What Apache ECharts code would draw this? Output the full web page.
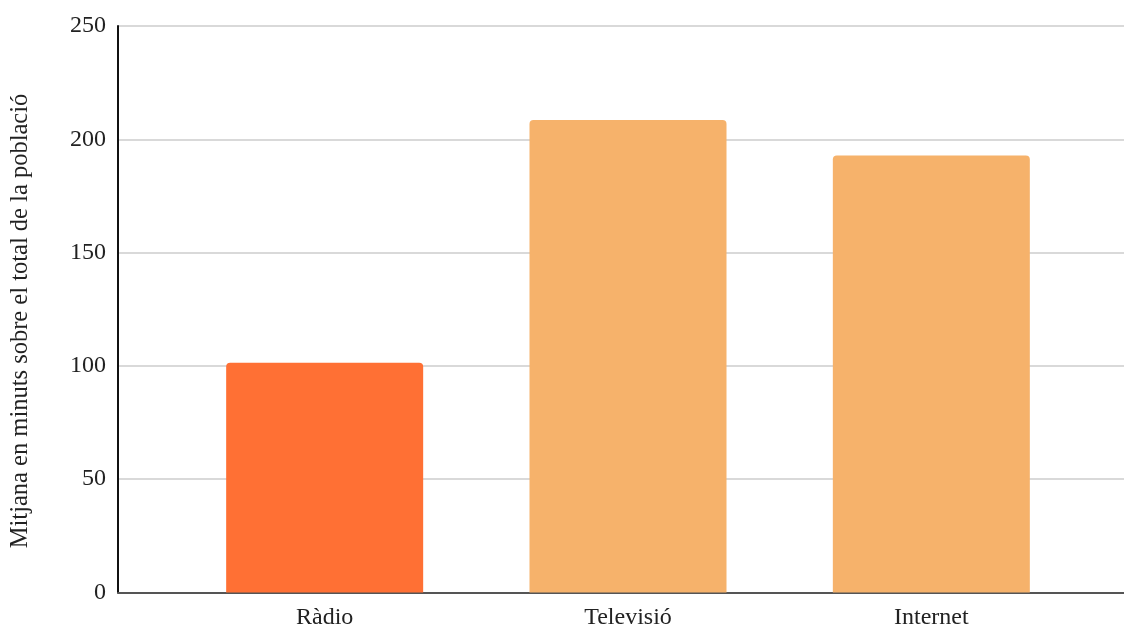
<!DOCTYPE html>
<html>
<head>
<meta charset="utf-8">
<script src="https://cdn.jsdelivr.net/npm/echarts@6/dist/echarts.min.js"></script>
<style>
  html, body { margin: 0; padding: 0; background: #ffffff; }
  #chart { width: 1124px; height: 630px; }
</style>
</head>
<body>
<div id="chart"></div>
<script>
// Mitjana de minuts diaris per mitjà
const categories = ['Ràdio', 'Televisió', 'Internet'];
const minutes = [101.4, 208.5, 192.8];
const barColors = ['#ff7034', '#f6b26b', '#f6b26b'];
const yTitle = 'Mitjana en minuts sobre el total de la població';
const yMin = 0;
const yMax = 250;
const yStep = 50;

const serif = '"Liberation Serif", "DejaVu Serif", serif';

const chart = echarts.init(document.getElementById('chart'), null, { renderer: 'canvas' });

chart.setOption({
  backgroundColor: '#ffffff',
  animation: false,
  grid: [
    // frame: value scale, gridlines and axis lines
    { left: 118, right: 0, top: 26, bottom: 37.5 },
    // bars
    { left: 173, right: 41, top: 26, bottom: 37.5 }
  ],
  xAxis: [
    {
      gridIndex: 0,
      type: 'category',
      data: categories,
      axisLine: { show: true, lineStyle: { color: '#555555', width: 2 } },
      axisTick: { show: false },
      axisLabel: { show: false },
      splitLine: { show: false }
    },
    {
      gridIndex: 1,
      type: 'category',
      data: categories,
      axisLine: { show: false },
      axisTick: { show: false },
      axisLabel: {
        show: true,
        margin: 13,
        color: '#222222',
        fontFamily: serif,
        fontSize: 24
      },
      splitLine: { show: false }
    }
  ],
  yAxis: [
    {
      gridIndex: 0,
      type: 'value',
      min: yMin,
      max: yMax,
      interval: yStep,
      axisLine: { show: true, lineStyle: { color: '#111111', width: 2 } },
      axisTick: { show: false },
      axisLabel: {
        margin: 12,
        padding: [5, 0, 0, 0],
        color: '#222222',
        fontFamily: serif,
        fontSize: 24
      },
      splitLine: { show: true, lineStyle: { color: '#cccccc', width: 1.5 } }
    },
    {
      gridIndex: 1,
      type: 'value',
      min: yMin,
      max: yMax,
      interval: yStep,
      axisLine: { show: false },
      axisTick: { show: false },
      axisLabel: { show: false },
      splitLine: { show: false }
    }
  ],
  graphic: [
    {
      type: 'text',
      x: 21,
      y: 321,
      rotation: Math.PI / 2,
      style: {
        text: yTitle,
        fill: '#222222',
        font: '24.5px ' + serif,
        align: 'center',
        verticalAlign: 'middle'
      }
    }
  ],
  series: [
    {
      type: 'bar',
      xAxisIndex: 1,
      yAxisIndex: 1,
      barWidth: 197,
      data: minutes.map((v, i) => ({
        value: v,
        itemStyle: { color: barColors[i] }
      })),
      itemStyle: { borderRadius: [4, 4, 0, 0] },
      z: 3
    }
  ]
});
</script>
</body>
</html>
